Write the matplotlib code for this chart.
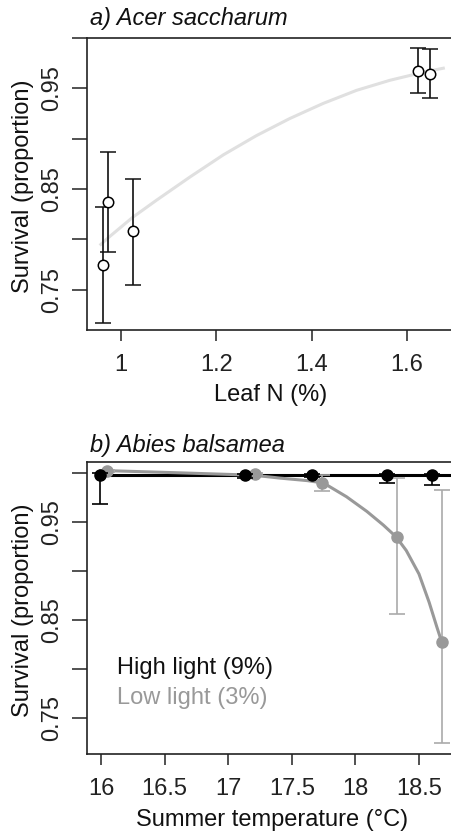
import numpy as np
import matplotlib.pyplot as plt

plt.rcParams['font.family'] = ['Liberation Sans', 'DejaVu Sans']
plt.rcParams['font.size'] = 17

# Panel a: Acer saccharum
leaf_n = [0.963, 0.974, 1.025, 1.623, 1.649]
surv_a = [0.775, 0.837, 0.808, 0.967, 0.964]
lo_a = [0.717, 0.787, 0.755, 0.945, 0.940]
hi_a = [0.832, 0.887, 0.860, 0.990, 0.989]
fit_a_x = [0.958, 0.977, 1.025, 1.075, 1.145, 1.215, 1.284, 1.354, 1.424, 1.494, 1.564, 1.634, 1.676]
fit_a_y = [0.795, 0.803, 0.822, 0.839, 0.862, 0.884, 0.903, 0.920, 0.935, 0.948, 0.958, 0.966, 0.970]

# Panel b: Abies balsamea
temp_hi = [15.99, 17.13, 17.66, 18.25, 18.60]
surv_hi = [0.998, 0.998, 0.998, 0.998, 0.998]
lo_hi = [0.969, 0.995, 0.996, 0.9905, 0.988]
hi_hi = [1.0, 0.999, 0.999, 0.999, 0.999]
temp_lo = [16.05, 17.21, 17.74, 18.325, 18.683]
surv_lo = [1.002, 0.999, 0.990, 0.935, 0.827]
lo_lo = [1.001, 0.998, 0.982, 0.856, 0.724]
hi_lo = [1.003, 1.0, 0.998, 0.995, 0.983]
fit_lo_x = [16.04, 16.6, 17.2, 17.41, 17.62, 17.75, 17.93, 18.09, 18.22, 18.32,
            18.40, 18.50, 18.58, 18.64, 18.68]
fit_lo_y = [1.0027, 1.0005, 0.998, 0.995, 0.9925, 0.990, 0.976, 0.961, 0.947, 0.935,
            0.921, 0.897, 0.868, 0.843, 0.827]
fit_hi_x = [15.99, 18.83]
fit_hi_y = [0.998, 0.998]

yticks = [0.75, 0.80, 0.85, 0.90, 0.95, 1.00]
ylabels = ['0.75', '', '0.85', '', '0.95', '']

W, H = 451, 832
fig = plt.figure(figsize=(W / 100, H / 100), dpi=100)


def style(ax):
    for s in ['top', 'left', 'bottom']:
        ax.spines[s].set_linewidth(1.2)
        ax.spines[s].set_color('#222222')
    ax.spines['right'].set_visible(False)
    ax.tick_params(axis='y', length=11, width=1.1, pad=6, labelsize=17, colors='#222222')
    ax.tick_params(axis='x', length=8, width=1.1, pad=9, labelsize=17, colors='#222222')
    ax.set_yticks(yticks)
    ax.set_yticklabels(ylabels, rotation=90, va='center')


# panel a
ax1 = fig.add_axes([87 / W, 1 - 330 / H, 380 / W, 292 / H])
ax1.plot(fit_a_x, fit_a_y, color='#e0e0e0', lw=2.2, zorder=1)
err_a = [np.array(surv_a) - np.array(lo_a), np.array(hi_a) - np.array(surv_a)]
ax1.errorbar(leaf_n, surv_a, yerr=err_a, fmt='o', mfc='white', mec='black', ms=7.5,
             mew=1.1, ecolor='#111111', elinewidth=1.2, capsize=5.5, capthick=1.2, zorder=3)
ax1.set_xlim(0.929, 0.929 + 380 / 477)
ax1.set_ylim(0.710, 1.0)
ax1.set_xticks([1.0, 1.2, 1.4, 1.6])
ax1.set_xticklabels(['1', '1.2', '1.4', '1.6'])
style(ax1)

# panel b
ax2 = fig.add_axes([87 / W, 1 - 754 / H, 380 / W, 292 / H])
ax2.plot(fit_hi_x, fit_hi_y, color='black', lw=2.2, zorder=2)
ax2.plot(fit_lo_x, fit_lo_y, color='#999999', lw=2.2, zorder=3)
err_lo = [np.array(surv_lo) - np.array(lo_lo), np.array(hi_lo) - np.array(surv_lo)]
ax2.errorbar(temp_lo, surv_lo, yerr=err_lo, fmt='o', color='#999999', ms=8,
             ecolor='#aaaaaa', elinewidth=1.2, capsize=6, capthick=1.2, zorder=4)
err_hi = [np.array(surv_hi) - np.array(lo_hi), np.array(hi_hi) - np.array(surv_hi)]
ax2.errorbar(temp_hi, surv_hi, yerr=err_hi, fmt='o', color='black', ms=8,
             ecolor='black', elinewidth=1.2, capsize=6, capthick=1.2, zorder=5)
ax2.set_xlim(15.89, 15.89 + 380 / 127.2)
ax2.set_ylim(0.713, 1.0115)
ax2.set_xticks([16, 16.5, 17, 17.5, 18, 18.5])
ax2.set_xticklabels(['16', '16.5', '17', '17.5', '18', '18.5'])
style(ax2)

# titles, labels, legend text
fig.text(90 / W, 1 - 19 / H, 'a) Acer saccharum', style='italic', fontsize=17,
         ha='left', va='center', color='#111111')
fig.text(90 / W, 1 - 445 / H, 'b) Abies balsamea', style='italic', fontsize=17,
         ha='left', va='center', color='#111111')
fig.text(23 / W, 1 - 186 / H, 'Survival (proportion)', rotation=90, fontsize=17,
         ha='center', va='center', color='#111111')
fig.text(23 / W, 1 - 610 / H, 'Survival (proportion)', rotation=90, fontsize=17,
         ha='center', va='center', color='#111111')
fig.text(271 / W, 1 - 395 / H, 'Leaf N (%)', fontsize=17, ha='center', va='center',
         color='#111111')
fig.text(272 / W, 1 - 820 / H, 'Summer temperature (°C)', fontsize=17, ha='center',
         va='center', color='#111111')
fig.text(117 / W, 1 - 668 / H, 'High light (9%)', fontsize=17, ha='left', va='center',
         color='#111111')
fig.text(117 / W, 1 - 698 / H, 'Low light (3%)', fontsize=17, ha='left', va='center',
         color='#999999')

fig.savefig('out.png', dpi=100)
